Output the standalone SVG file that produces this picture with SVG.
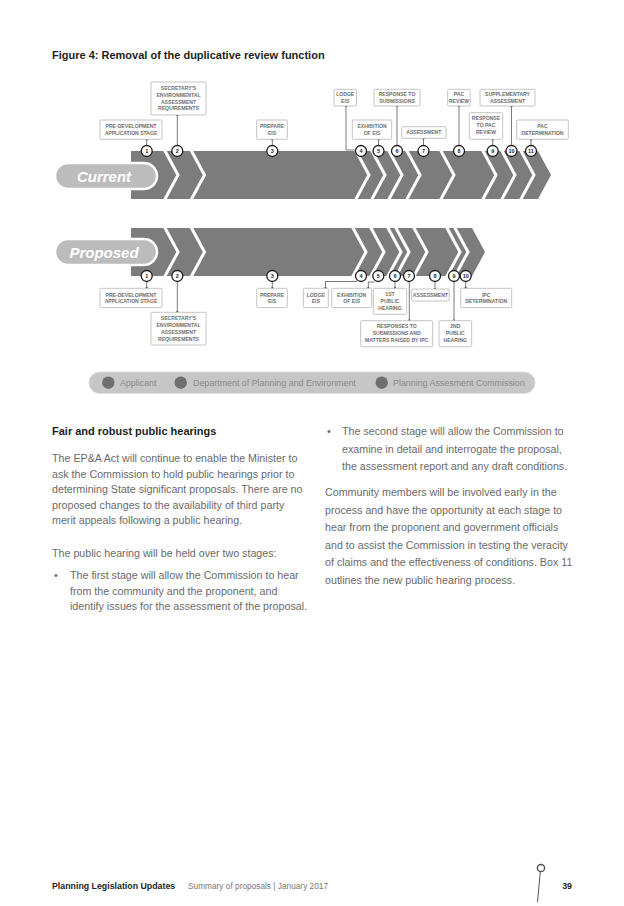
<svg xmlns="http://www.w3.org/2000/svg" width="624" height="906" viewBox="0 0 624 906">
<defs>
<style>
.band{fill:#7c7c7c}
.sep{fill:none;stroke:#fff;stroke-width:3;stroke-linejoin:miter}
.pill{fill:#bcbcbc;stroke:#fff;stroke-width:2.5}
.pilltxt{font-family:"Liberation Sans",Arial,sans-serif;font-weight:bold;font-style:italic;font-size:15px;fill:#fff}
.box{fill:#fff;stroke:#bdbdbd;stroke-width:0.9}
.lbl{font-family:"Liberation Sans",Arial,sans-serif;font-weight:bold;font-size:5.1px;fill:#6e6e6e;text-anchor:middle}
.num circle{fill:#fff;stroke:#1e1e1e;stroke-width:1.3}
.num text{font-family:"Liberation Sans",Arial,sans-serif;font-weight:bold;font-size:5.5px;fill:#1e1e1e;text-anchor:middle}
.con{fill:none;stroke:#444;stroke-width:0.7}
.leg{font-family:"Liberation Sans",Arial,sans-serif;font-size:8.9px;fill:#8a8a8a}
.body{font-family:"Liberation Sans",Arial,sans-serif;font-size:10.7px;fill:#6a6a6a}
.head{font-family:"Liberation Sans",Arial,sans-serif;font-weight:bold;fill:#1e1e1e}
</style>
<marker id="dot" viewBox="0 0 4 4" refX="2" refY="2" markerWidth="2.6" markerHeight="2.6" markerUnits="userSpaceOnUse"><circle cx="2" cy="2" r="2" fill="#444"/></marker>
</defs>
<rect width="624" height="906" fill="#fff"/>

<text class="head" x="52" y="59" font-size="11">Figure 4: Removal of the duplicative review function</text>

<!-- CURRENT band -->
<g id="current-band">
<polygon class="band" points="131,151 538,151 551,175 538,199 131,199"/>
<polyline class="sep" points="163.4,148 178,175 163.4,202"/>
<polyline class="sep" points="189.9,148 204.5,175 189.9,202"/>
<polyline class="sep" points="354.4,148 369,175 354.4,202"/>
<polyline class="sep" points="370.4,148 385,175 370.4,202"/>
<polyline class="sep" points="387.4,148 402,175 387.4,202"/>
<polyline class="sep" points="405.4,148 420,175 405.4,202"/>
<polyline class="sep" points="439.4,148 454,175 439.4,202"/>
<polyline class="sep" points="481.4,148 496,175 481.4,202"/>
<polyline class="sep" points="500.4,148 515,175 500.4,202"/>
<polyline class="sep" points="519.4,148 534,175 519.4,202"/>
</g>
<g id="current-pill">
<rect class="pill" x="55" y="163" width="102" height="26" rx="13"/>
<text class="pilltxt" x="104" y="181.5" text-anchor="middle">Current</text>
</g>

<!-- PROPOSED band -->
<g id="proposed-band">
<polygon class="band" points="131,228 472,228 485,252 472,276 131,276"/>
<polyline class="sep" points="163.4,225 178,252 163.4,279"/>
<polyline class="sep" points="189.9,225 204.5,252 189.9,279"/>
<polyline class="sep" points="351.4,225 366,252 351.4,279"/>
<polyline class="sep" points="369.4,225 384,252 369.4,279"/>
<polyline class="sep" points="386.4,225 401,252 386.4,279"/>
<polyline class="sep" points="394.4,225 409,252 394.4,279"/>
<polyline class="sep" points="412.4,225 427,252 412.4,279"/>
<polyline class="sep" points="445.4,225 460,252 445.4,279"/>
<polyline class="sep" points="453.4,225 468,252 453.4,279"/>
</g>
<g id="proposed-pill">
<rect class="pill" x="55" y="239" width="102" height="26" rx="13"/>
<text class="pilltxt" x="104" y="257.5" text-anchor="middle">Proposed</text>
</g>

<!-- connectors -->
<g id="connectors">
<path class="con" marker-start="url(#dot)" d="M146.7,139.3V145.5"/>
<path class="con" marker-start="url(#dot)" d="M177.3,115V145.5"/>
<path class="con" marker-start="url(#dot)" d="M272.3,139.3V145.5"/>
<path class="con" marker-start="url(#dot)" d="M346,106V150H355.5"/>
<path class="con" marker-start="url(#dot)" d="M378.5,139.3V145.5"/>
<path class="con" marker-start="url(#dot)" d="M397,106V145.5"/>
<path class="con" marker-start="url(#dot)" d="M423.5,138.3V145.5"/>
<path class="con" marker-start="url(#dot)" d="M459,106V145.5"/>
<path class="con" marker-start="url(#dot)" d="M492.7,139.3V145.5"/>
<path class="con" marker-start="url(#dot)" d="M511.5,106V145.5"/>
<path class="con" marker-start="url(#dot)" d="M531,139.3V145.5"/>

<path class="con" marker-end="url(#dot)" d="M146.7,281.5V288.3"/>
<path class="con" marker-end="url(#dot)" d="M177.3,281.5V312.3"/>
<path class="con" marker-end="url(#dot)" d="M272.3,281.5V288.3"/>
<path class="con" marker-end="url(#dot)" d="M357,281.5H325.5V288.3"/>
<path class="con" marker-end="url(#dot)" d="M374.5,282H368.3V288.3"/>
<path class="con" marker-end="url(#dot)" d="M395,281.5V288.3"/>
<path class="con" marker-end="url(#dot)" d="M409.3,281.5V320.7"/>
<path class="con" marker-end="url(#dot)" d="M435,281.5V289"/>
<path class="con" marker-end="url(#dot)" d="M454,281.5V320.7"/>
<path class="con" marker-end="url(#dot)" d="M465.7,281.5V288.3"/>
</g>

<!-- current numbered markers -->
<g class="num" id="c-num">
<g id="c1"><circle cx="146.7" cy="151" r="5.5"/><text x="146.7" y="153">1</text></g>
<g id="c2"><circle cx="177.3" cy="151" r="5.5"/><text x="177.3" y="153">2</text></g>
<g id="c3"><circle cx="272.3" cy="151" r="5.5"/><text x="272.3" y="153">3</text></g>
<g id="c4"><circle cx="361" cy="151" r="5.5"/><text x="361" y="153">4</text></g>
<g id="c5"><circle cx="378.5" cy="151" r="5.5"/><text x="378.5" y="153">5</text></g>
<g id="c6"><circle cx="397" cy="151" r="5.5"/><text x="397" y="153">6</text></g>
<g id="c7"><circle cx="423.5" cy="151" r="5.5"/><text x="423.5" y="153">7</text></g>
<g id="c8"><circle cx="459" cy="151" r="5.5"/><text x="459" y="153">8</text></g>
<g id="c9"><circle cx="492.7" cy="151" r="5.5"/><text x="492.7" y="153">9</text></g>
<g id="c10"><circle cx="511.5" cy="151" r="5.5"/><text x="511.5" y="153" font-size="5">10</text></g>
<g id="c11"><circle cx="531" cy="151" r="5.5"/><text x="531" y="153" font-size="5">11</text></g>
</g>

<!-- proposed numbered markers -->
<g class="num" id="p-num">
<g id="p1"><circle cx="146.7" cy="276" r="5.5"/><text x="146.7" y="278">1</text></g>
<g id="p2"><circle cx="177.3" cy="276" r="5.5"/><text x="177.3" y="278">2</text></g>
<g id="p3"><circle cx="272.3" cy="276" r="5.5"/><text x="272.3" y="278">3</text></g>
<g id="p4"><circle cx="361" cy="276" r="5.5"/><text x="361" y="278">4</text></g>
<g id="p5"><circle cx="378.3" cy="276" r="5.5"/><text x="378.3" y="278">5</text></g>
<g id="p6"><circle cx="395" cy="276" r="5.5"/><text x="395" y="278">6</text></g>
<g id="p7"><circle cx="409" cy="276" r="5.5"/><text x="409" y="278">7</text></g>
<g id="p8"><circle cx="435" cy="276" r="5.5"/><text x="435" y="278">8</text></g>
<g id="p9"><circle cx="454" cy="276" r="5.5"/><text x="454" y="278">9</text></g>
<g id="p10"><circle cx="465.7" cy="276" r="5.5"/><text x="465.7" y="278" font-size="5">10</text></g>
</g>

<!-- current label boxes -->
<g id="c-sear"><rect class="box" x="151" y="82" width="55" height="33" rx="1"/>
<text class="lbl" x="178.5" y="90">SECRETARY'S</text><text class="lbl" x="178.5" y="96.8">ENVIRONMENTAL</text><text class="lbl" x="178.5" y="103.6">ASSESSMENT</text><text class="lbl" x="178.5" y="110.4">REQUIREMENTS</text></g>
<g id="c-predev"><rect class="box" x="100" y="120" width="62" height="19.3" rx="1"/>
<text class="lbl" x="131" y="128.2">PRE-DEVELOPMENT</text><text class="lbl" x="131" y="135">APPLICATION STAGE</text></g>
<g id="c-prepare"><rect class="box" x="256.7" y="120" width="30.6" height="19.3" rx="1"/>
<text class="lbl" x="272" y="128.2">PREPARE</text><text class="lbl" x="272" y="135">EIS</text></g>
<g id="c-lodge"><rect class="box" x="334" y="89.3" width="22.5" height="16.7" rx="1"/>
<text class="lbl" x="345.2" y="96.2">LODGE</text><text class="lbl" x="345.2" y="103">EIS</text></g>
<g id="c-response"><rect class="box" x="374" y="89.3" width="46" height="16.7" rx="1"/>
<text class="lbl" x="397" y="96.2">RESPONSE TO</text><text class="lbl" x="397" y="103">SUBMISSIONS</text></g>
<g id="c-exhibition"><rect class="box" x="352.3" y="120" width="39.4" height="19.3" rx="1"/>
<text class="lbl" x="372" y="128.2">EXHIBITION</text><text class="lbl" x="372" y="135">OF EIS</text></g>
<g id="c-assessment"><rect class="box" x="401.7" y="126.7" width="44.3" height="11.6" rx="1"/>
<text class="lbl" x="423.8" y="134.3">ASSESSMENT</text></g>
<g id="c-pacreview"><rect class="box" x="447.7" y="89.3" width="22.5" height="16.7" rx="1"/>
<text class="lbl" x="459" y="96.2">PAC</text><text class="lbl" x="459" y="103">REVIEW</text></g>
<g id="c-supp"><rect class="box" x="480" y="89.3" width="55" height="16.7" rx="1"/>
<text class="lbl" x="507.5" y="96.2">SUPPLEMENTARY</text><text class="lbl" x="507.5" y="103">ASSESSMENT</text></g>
<g id="c-resppac"><rect class="box" x="469.3" y="112.7" width="33.4" height="26.6" rx="1"/>
<text class="lbl" x="486" y="120.3">RESPONSE</text><text class="lbl" x="486" y="127.1">TO PAC</text><text class="lbl" x="486" y="133.9">REVIEW</text></g>
<g id="c-pacdet"><rect class="box" x="516.7" y="120" width="51.6" height="19.3" rx="1"/>
<text class="lbl" x="542.5" y="128.2">PAC</text><text class="lbl" x="542.5" y="135">DETERMINATION</text></g>

<!-- proposed label boxes -->
<g id="p-predev"><rect class="box" x="100" y="288.3" width="62" height="19.3" rx="1"/>
<text class="lbl" x="131" y="296.5">PRE-DEVELOPMENT</text><text class="lbl" x="131" y="303.3">APPLICATION STAGE</text></g>
<g id="p-sear"><rect class="box" x="151" y="312.3" width="55" height="32.7" rx="1"/>
<text class="lbl" x="178.5" y="320.2">SECRETARY'S</text><text class="lbl" x="178.5" y="327">ENVIRONMENTAL</text><text class="lbl" x="178.5" y="333.8">ASSESSMENT</text><text class="lbl" x="178.5" y="340.6">REQUIREMENTS</text></g>
<g id="p-prepare"><rect class="box" x="256.7" y="288.3" width="30.6" height="19.3" rx="1"/>
<text class="lbl" x="272" y="296.5">PREPARE</text><text class="lbl" x="272" y="303.3">EIS</text></g>
<g id="p-lodge"><rect class="box" x="303.3" y="288.3" width="25" height="19.3" rx="1"/>
<text class="lbl" x="315.8" y="296.5">LODGE</text><text class="lbl" x="315.8" y="303.3">EIS</text></g>
<g id="p-exhibition"><rect class="box" x="331.7" y="288.3" width="40" height="19.3" rx="1"/>
<text class="lbl" x="351.7" y="296.5">EXHIBITION</text><text class="lbl" x="351.7" y="303.3">OF EIS</text></g>
<g id="p-hearing1"><rect class="box" x="373.3" y="288.3" width="33.4" height="26" rx="1"/>
<text class="lbl" x="390" y="295.9">1ST</text><text class="lbl" x="390" y="302.7">PUBLIC</text><text class="lbl" x="390" y="309.5">HEARING</text></g>
<g id="p-responses"><rect class="box" x="360.7" y="320.7" width="72" height="26" rx="1"/>
<text class="lbl" x="396.7" y="328.3">RESPONSES TO</text><text class="lbl" x="396.7" y="335.1">SUBMISSIONS AND</text><text class="lbl" x="396.7" y="341.9">MATTERS RAISED BY IPC</text></g>
<g id="p-assessment"><rect class="box" x="411.7" y="289" width="37.5" height="12" rx="1"/>
<text class="lbl" x="430.4" y="296.8">ASSESSMENT</text></g>
<g id="p-hearing2"><rect class="box" x="439" y="320.7" width="32.7" height="26" rx="1"/>
<text class="lbl" x="455.3" y="328.3">2ND</text><text class="lbl" x="455.3" y="335.1">PUBLIC</text><text class="lbl" x="455.3" y="341.9">HEARING</text></g>
<g id="p-ipc"><rect class="box" x="460.7" y="288.3" width="51" height="19.3" rx="1"/>
<text class="lbl" x="486.2" y="296.5">IPC</text><text class="lbl" x="486.2" y="303.3">DETERMINATION</text></g>

<!-- legend -->
<g id="legend">
<rect x="89" y="372" width="446" height="21.5" rx="10.75" fill="#c6c6c6" stroke="#dedede" stroke-width="1"/>
<circle cx="108.3" cy="382.7" r="6.2" fill="#6f6f6f"/>
<text class="leg" x="120" y="385.8">Applicant</text>
<circle cx="180.7" cy="382.7" r="6.2" fill="#6f6f6f"/>
<text class="leg" x="193" y="385.8">Department of Planning and Environment</text>
<circle cx="381.7" cy="382.7" r="6.2" fill="#6f6f6f"/>
<text class="leg" x="393" y="385.8">Planning Assesment Commission</text>
</g>

<!-- body text -->
<g id="text-left">
<text class="head" x="52" y="435" font-size="11">Fair and robust public hearings</text>
<text class="body" x="52" y="462">The EP&amp;A Act will continue to enable the Minister to</text>
<text class="body" x="52" y="477.5">ask the Commission to hold public hearings prior to</text>
<text class="body" x="52" y="493">determining State significant proposals. There are no</text>
<text class="body" x="52" y="508.5">proposed changes to the availability of third party</text>
<text class="body" x="52" y="524">merit appeals following a public hearing.</text>
<text class="body" x="52" y="557">The public hearing will be held over two stages:</text>
<text class="body" x="54" y="579">•</text>
<text class="body" x="70" y="579">The first stage will allow the Commission to hear</text>
<text class="body" x="70" y="594.5">from the community and the proponent, and</text>
<text class="body" x="70" y="610">identify issues for the assessment of the proposal.</text>
</g>
<g id="text-right">
<text class="body" x="327" y="435">•</text>
<text class="body" x="342" y="435">The second stage will allow the Commission to</text>
<text class="body" x="342" y="452.5">examine in detail and interrogate the proposal,</text>
<text class="body" x="342" y="470">the assessment report and any draft conditions.</text>
<text class="body" x="325" y="496">Community members will be involved early in the</text>
<text class="body" x="325" y="513.5">process and have the opportunity at each stage to</text>
<text class="body" x="325" y="531">hear from the proponent and government officials</text>
<text class="body" x="325" y="548.5">and to assist the Commission in testing the veracity</text>
<text class="body" x="325" y="566">of claims and the effectiveness of conditions. Box 11</text>
<text class="body" x="325" y="583.5">outlines the new public hearing process.</text>
</g>

<!-- footer -->
<g id="footer">
<text class="head" x="52" y="889" font-size="8.8">Planning Legislation Updates</text>
<text x="188" y="889" font-family="'Liberation Sans',Arial,sans-serif" font-size="8.3" fill="#777">Summary of proposals | January 2017</text>
<circle cx="541" cy="868" r="3.6" fill="#fff" stroke="#555" stroke-width="1.5"/>
<line x1="540.3" y1="871.6" x2="537.5" y2="902" stroke="#555" stroke-width="1"/>
<text class="head" x="572" y="889" font-size="8.8" text-anchor="end">39</text>
</g>
</svg>
